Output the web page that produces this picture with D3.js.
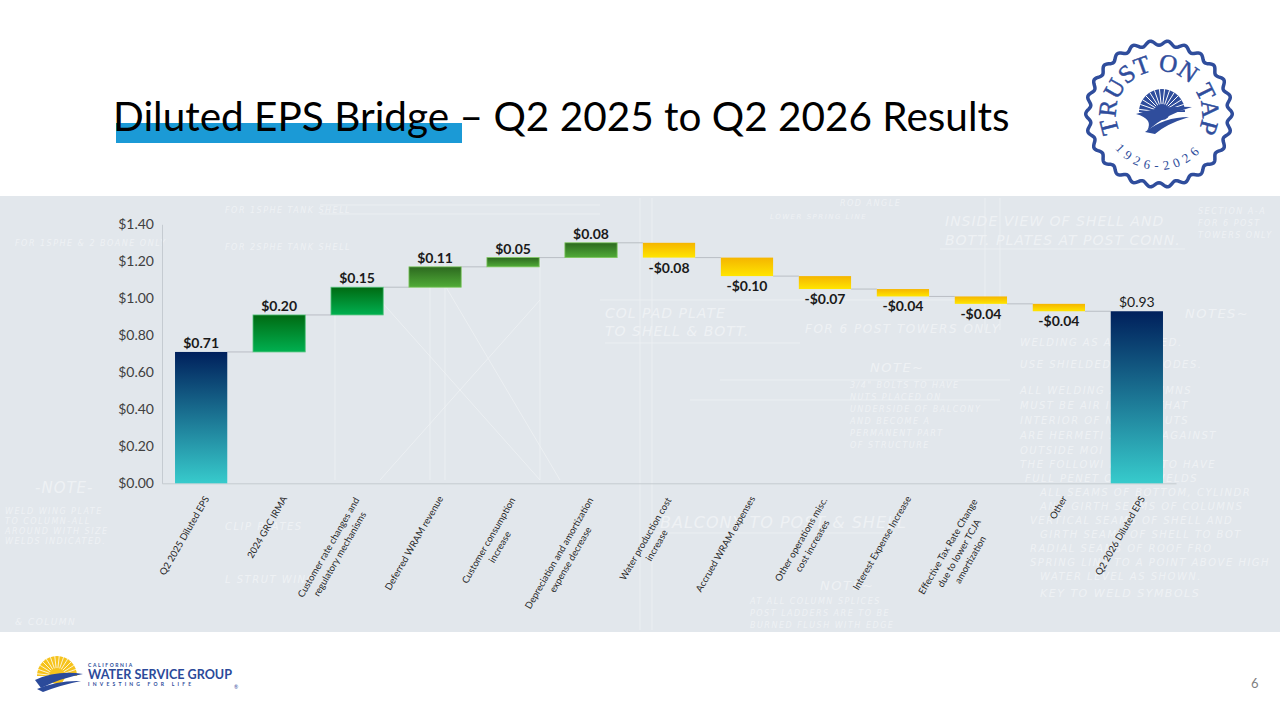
<!DOCTYPE html>
<html>
<head>
<meta charset="utf-8">
<script src="https://cdn.jsdelivr.net/npm/d3@7"></script>
<style>
  body { margin: 0; background: #fff; }
  svg { display: block; font-family: Lato, "Open Sans", sans-serif; }
</style>
</head>
<body>
<svg width="1280" height="720"></svg>
<script>
// ---- data ----
const categories = [
  "Q2 2025 Diluted EPS",
  "2024 GRC IRMA",
  "Customer rate changes and\nregulatory mechanisms",
  "Deferred WRAM revenue",
  "Customer consumption\nincrease",
  "Depreciation and amortization\nexpense decrease",
  "Water production cost\nincrease",
  "Accrued WRAM expenses",
  "Other operations misc.\ncost increases",
  "Interest Expense Increase",
  "Effective Tax Rate Change\ndue to lower TCJA\namortization",
  "Other",
  "Q2 2026 Diluted EPS"
];
const amounts = [0.71, 0.20, 0.15, 0.11, 0.05, 0.08, -0.08, -0.10, -0.07, -0.04, -0.04, -0.04, 0.93];
const barGroups = ["total", "rate", "rate", "other", "other", "other",
                   "cost", "cost", "cost", "cost", "cost", "cost", "total"];
const yTicks = [0, 0.2, 0.4, 0.6, 0.8, 1.0, 1.2, 1.4];

const title = "Diluted EPS Bridge – Q2 2025 to Q2 2026 Results";

// ---- colours ----
const groupFill = {
  total: ["#00205c", "#37cbcc"],
  rate:  ["#006a12", "#00b050"],
  other: ["#2c691f", "#50ab37"],
  cost:  ["#f5b500", "#ffe500"]
};
const groupStroke = { total: "none", rate: "#56c47e", other: "#7dc65e", cost: "none" };

const svg = d3.select("svg");
const defs = svg.append("defs");
Object.keys(groupFill).forEach(k => {
  const g = defs.append("linearGradient").attr("id", "grad-" + k)
    .attr("x1", 0).attr("y1", 0).attr("x2", 0).attr("y2", 1);
  g.append("stop").attr("offset", "0%").attr("stop-color", groupFill[k][0]);
  g.append("stop").attr("offset", "100%").attr("stop-color", groupFill[k][1]);
});

// ---- slide background ----
svg.append("rect").attr("width", 1280).attr("height", 720).attr("fill", "#fff");
svg.append("rect").attr("x", 0).attr("y", 196).attr("width", 1280).attr("height", 436).attr("fill", "#e2e7ec");

// faint blueprint sketch behind the chart
const bp = svg.append("g").attr("fill", "#fbfcfd").attr("stroke", "#fbfcfd")
  .attr("opacity", 0.5).style("font-family", "'DejaVu Sans', sans-serif");
const bpLines = [
  [640, 198, 640, 630], [652, 198, 652, 630], [985, 198, 985, 330], [1000, 198, 1000, 330],
  [335, 300, 335, 480], [430, 260, 430, 480], [445, 260, 445, 480], [540, 260, 540, 480],
  [380, 300, 540, 480], [540, 300, 380, 480], [430, 260, 560, 480], [320, 205, 600, 205],
  [320, 214, 600, 214], [600, 300, 1000, 300], [720, 380, 1010, 380], [690, 400, 1000, 400],
  [940, 249, 1185, 249], [605, 343, 800, 343], [655, 533, 895, 533]
];
bp.selectAll("line").data(bpLines).join("line")
  .attr("x1", d => d[0]).attr("y1", d => d[1]).attr("x2", d => d[2]).attr("y2", d => d[3])
  .attr("stroke-width", 0.8).attr("fill", "none");
const bpTexts = [
  [945, 226, 14, "INSIDE VIEW OF SHELL AND"], [945, 245, 14, "BOTT. PLATES AT POST CONN."],
  [1198, 214, 8, "SECTION A-A"], [1198, 226, 8, "FOR 6 POST"], [1198, 238, 8, "TOWERS ONLY"],
  [605, 318, 14, "COL PAD PLATE"], [605, 336, 14, "TO SHELL & BOTT."], [805, 333, 12, "FOR 6 POST TOWERS ONLY"],
  [870, 372, 13, "NOTE~"], [850, 388, 8, "3/4\" BOLTS TO HAVE"], [850, 400, 8, "NUTS PLACED ON"],
  [850, 412, 8, "UNDERSIDE OF BALCONY"], [850, 424, 8, "AND BECOME A"], [850, 436, 8, "PERMANENT PART"],
  [850, 448, 8, "OF STRUCTURE"], [1185, 318, 13, "NOTES~"],
  [1020, 346, 10, "WELDING AS          AND NOTED."], [1020, 368, 10, "USE SHIELDED          ELECTRODES."],
  [1020, 394, 10, "ALL WELDING          AR COLUMNS"], [1020, 409, 10, "MUST BE AIR         INSURE THAT"],
  [1020, 424, 10, "INTERIOR OF          NS & STRUTS"], [1020, 439, 10, "ARE HERMETI       SEALED AGAINST"],
  [1020, 454, 10, "OUTSIDE MOI"], [1020, 468, 10, "THE FOLLOWI         MS ARE TO HAVE"],
  [1025, 482, 10, "FULL PENET           OF THE WELDS"], [1040, 496, 10, "ALL SEAMS OF BOTTOM, CYLINDR"],
  [1040, 510, 10, "AND GIRTH SEAMS OF COLUMNS"], [1030, 524, 10, "VERTICAL SEAMS OF SHELL AND"],
  [1040, 538, 10, "GIRTH SEAMS OF SHELL TO BOT"], [1030, 552, 10, "RADIAL SEAMS OF ROOF FRO"],
  [1030, 566, 10, "SPRING LINE TO A POINT ABOVE HIGH"], [1040, 580, 10, "WATER LEVEL AS SHOWN."],
  [1040, 597, 11, "KEY TO WELD SYMBOLS"], [35, 493, 15, "-NOTE-"], [5, 514, 8, "WELD WING PLATE"],
  [5, 524, 8, "TO COLUMN-ALL"], [5, 534, 8, "AROUND WITH SIZE"], [5, 544, 8, "WELDS INDICATED."],
  [15, 246, 8, "FOR 1SPHE & 2 BOANE ONLY"], [660, 528, 16, "BALCONY TO POST & SHELL"],
  [820, 590, 13, "NOTE~"], [750, 604, 8, "AT ALL COLUMN SPLICES"], [750, 616, 8, "POST LADDERS ARE TO BE"],
  [750, 628, 8, "BURNED FLUSH WITH EDGE"], [225, 213, 8, "FOR 1SPHE TANK SHELL"], [225, 250, 8, "FOR 2SPHE TANK SHELL"],
  [225, 530, 10, "CLIP PLATES"], [225, 583, 10, "L STRUT WING"], [15, 625, 9, "& COLUMN"],
  [840, 206, 8, "ROD ANGLE"], [770, 219, 7, "LOWER SPRING LINE"]
];
bp.selectAll("text").data(bpTexts).join("text")
  .attr("x", d => d[0]).attr("y", d => d[1]).attr("font-size", d => d[2])
  .attr("font-style", "italic").attr("stroke", "none")
  .attr("letter-spacing", d => d[2] >= 14 ? 1 : 1.5)
  .text(d => d[3]);

// ---- title ----
svg.append("rect").attr("x", 116).attr("y", 123).attr("width", 346).attr("height", 20).attr("fill", "#1b9ad6");
svg.append("text").attr("x", 113).attr("y", 131).attr("font-size", 40.5).attr("fill", "#000").text(title);

// ---- chart ----
const x = d3.scaleBand().domain(categories).range([162, 1176]).paddingInner(0.33).paddingOuter(0.167);
const y = d3.scaleLinear().domain([0, 1.4]).range([483.3, 224.3]);
const bw = x.bandwidth();

let running = 0;
const steps = amounts.map((v, i) => {
  if (barGroups[i] === "total") { running = v; return { i, y0: 0, y1: v, v }; }
  const s = { i, y0: running, y1: running + v, v };
  running += v;
  return s;
});

svg.append("g").attr("transform", "translate(162,0)")
  .call(d3.axisLeft(y).tickValues(yTicks).tickSize(0).tickSizeOuter(0).tickPadding(8)
    .tickFormat(d => "$" + d.toFixed(2)))
  .call(g => g.select(".domain").attr("stroke", "#c5cbd1"))
  .call(g => g.selectAll("text").attr("font-size", 14).attr("fill", "#404040")
    .style("font-family", "Lato, sans-serif"));

svg.append("g").attr("transform", `translate(0,${y(0)})`)
  .call(d3.axisBottom(x).tickSize(0).tickSizeOuter(0).tickFormat(""))
  .call(g => g.select(".domain").attr("stroke", "#c5cbd1"));

// connectors
svg.append("g").selectAll("line").data(steps.slice(0, -1)).join("line")
  .attr("x1", d => x(categories[d.i]) + bw)
  .attr("x2", d => x(categories[d.i + 1]))
  .attr("y1", d => y(d.y1)).attr("y2", d => y(d.y1))
  .attr("stroke", "#b9bec4").attr("stroke-width", 1);

// bars
svg.append("g").selectAll("rect").data(steps).join("rect")
  .attr("x", d => x(categories[d.i]))
  .attr("y", d => y(Math.max(d.y0, d.y1)))
  .attr("width", bw)
  .attr("height", d => Math.abs(y(d.y0) - y(d.y1)))
  .attr("fill", d => `url(#grad-${barGroups[d.i]})`)
  .attr("stroke", d => groupStroke[barGroups[d.i]])
  .attr("stroke-width", 0.8);

// value labels
const fmt = v => (v < 0 ? "-" : "") + "$" + Math.abs(v).toFixed(2);
svg.append("g").selectAll("text").data(steps).join("text")
  .attr("x", d => x(categories[d.i]) + bw / 2)
  .attr("y", d => d.v < 0 ? y(d.y1) + 15 : y(d.y1) - 4)
  .attr("text-anchor", "middle")
  .attr("font-size", 14)
  .attr("font-weight", d => d.i === categories.length - 1 ? "normal" : "bold")
  .attr("fill", "#1a1a1a")
  .text(d => fmt(d.v));

// rotated category labels
const labelG = svg.append("g").attr("fill", "#262626").attr("font-size", 9.5);
categories.forEach(c => {
  const lines = c.split("\n");
  const n = lines.length;
  const g = labelG.append("g")
    .attr("transform", `translate(${x(c) + bw / 2 + 2.4 - (n - 1) * 5.8},${495 + (n - 1) * 1.5}) rotate(-60)`);
  const ts = lines.map((t, i) => g.append("text").attr("y", 7 + i * 13).attr("text-anchor", "middle").text(t));
  const w = d3.max(ts, t => t.node().getComputedTextLength());
  ts.forEach(t => t.attr("x", -w / 2));
});

// ---- "Trust on Tap" seal ----
const cx = 1159, cy = 114;
const seal = svg.append("g");
const scallop = d3.range(0, 361).map(a => {
  const t = a * Math.PI / 180, r = 71 + 2.3 * Math.cos(26 * t);
  return [cx + r * Math.cos(t), cy + r * Math.sin(t)];
});
seal.append("path").attr("d", d3.line()(scallop) + "Z")
  .attr("fill", "#fff").attr("stroke", "#2f4d9c").attr("stroke-width", 3.5);
const rTop = 43, rBot = 56;
defs.append("path").attr("id", "arcTop")
  .attr("d", `M${cx},${cy + rTop} A${rTop},${rTop} 0 0 1 ${cx},${cy - rTop} A${rTop},${rTop} 0 0 1 ${cx},${cy + rTop}`);
defs.append("path").attr("id", "arcBot")
  .attr("d", `M${cx},${cy - rBot} A${rBot},${rBot} 0 0 0 ${cx},${cy + rBot} A${rBot},${rBot} 0 0 0 ${cx},${cy - rBot}`);
seal.append("text").attr("fill", "#2f4d9c").attr("font-size", 25)
  .attr("stroke", "#2f4d9c").attr("stroke-width", 0.5)
  .style("font-family", "'Liberation Serif', 'DejaVu Serif', serif")
  .append("textPath").attr("href", "#arcTop").attr("startOffset", "50%").attr("text-anchor", "middle")
  .text("TRUST ON TAP");
seal.append("text").attr("fill", "#2f4d9c").attr("font-size", 13)
  .style("font-family", "'Liberation Serif', 'DejaVu Serif', serif").attr("letter-spacing", 5)
  .append("textPath").attr("href", "#arcBot").attr("startOffset", "50%").attr("text-anchor", "middle")
  .text("1926-2026");
// sun emblem
const sx = 1162, sy = 112, sr = 23;
seal.append("path").attr("d", `M${sx - sr},${sy} A${sr},${sr} 0 0 1 ${sx + sr},${sy} Z`).attr("fill", "#2f4d9c");
seal.append("g").selectAll("line").data(d3.range(14)).join("line")
  .attr("x1", sx).attr("y1", sy)
  .attr("x2", a => sx + sr * Math.cos(Math.PI + (a + 0.5) * Math.PI / 14))
  .attr("y2", a => sy + sr * Math.sin(Math.PI + (a + 0.5) * Math.PI / 14))
  .attr("stroke", "#fff").attr("stroke-width", 1);
seal.append("circle").attr("cx", sx).attr("cy", sy).attr("r", 8).attr("fill", "#2f4d9c");
seal.append("path").attr("d", `M${sx - 26},${sy + 2} Q${sx},${sy - 7} ${sx + 30},${sy - 5} Q${sx + 4},${sy + 2} ${sx - 15},${sy + 19} Q${sx - 8},${sy + 7} ${sx - 26},${sy + 2} Z`)
  .attr("fill", "#2f4d9c");
seal.append("path").attr("d", `M${sx - 17},${sy + 20} Q${sx + 2},${sy + 5} ${sx + 27},${sy + 5} Q${sx + 4},${sy + 12} ${sx - 7},${sy + 22} Z`)
  .attr("fill", "#2f4d9c");

// ---- footer logo ----
const logo = svg.append("g");
const lx = 57, ly = 676;
logo.append("path").attr("d", `M${lx - 20},${ly} A20,20 0 0 1 ${lx + 20},${ly} Z`).attr("fill", "#f6c31c");
logo.append("g").selectAll("line").data(d3.range(14)).join("line")
  .attr("x1", lx).attr("y1", ly)
  .attr("x2", a => lx + 20 * Math.cos(Math.PI + (a + 0.5) * Math.PI / 14))
  .attr("y2", a => ly + 20 * Math.sin(Math.PI + (a + 0.5) * Math.PI / 14))
  .attr("stroke", "#fff").attr("stroke-width", 0.8);
logo.append("circle").attr("cx", lx).attr("cy", ly).attr("r", 8).attr("fill", "#f6c31c");
logo.append("path").attr("d", `M${lx - 22},${ly + 4} Q${lx},${ly - 6} ${lx + 26},${ly - 2} Q${lx + 4},${ly + 2} ${lx - 16},${ly + 12} Z`).attr("fill", "#2b4a9a");
logo.append("path").attr("d", `M${lx - 20},${ly + 13} Q${lx + 2},${ly + 4} ${lx + 24},${ly + 5} Q${lx + 4},${ly + 9} ${lx - 14},${ly + 16} Z`).attr("fill", "#2b4a9a");
logo.append("text").attr("x", 88).attr("y", 667).attr("font-size", 5).attr("font-weight", "bold")
  .attr("letter-spacing", 1.6).attr("fill", "#2b4a9a").text("CALIFORNIA");
logo.append("text").attr("x", 88).attr("y", 679).attr("font-size", 12.6).attr("font-weight", "bold")
  .attr("fill", "#2b4a9a").text("WATER SERVICE GROUP");
logo.append("text").attr("x", 88).attr("y", 686).attr("font-size", 5).attr("font-weight", "bold")
  .attr("letter-spacing", 3.2).attr("fill", "#2b4a9a").text("INVESTING FOR LIFE");
logo.append("text").attr("x", 234).attr("y", 689).attr("font-size", 5).attr("fill", "#2b4a9a").text("®");

// page number
svg.append("text").attr("x", 1251).attr("y", 688).attr("font-size", 13).attr("fill", "#7f7f7f").text("6");
</script>
</body>
</html>
